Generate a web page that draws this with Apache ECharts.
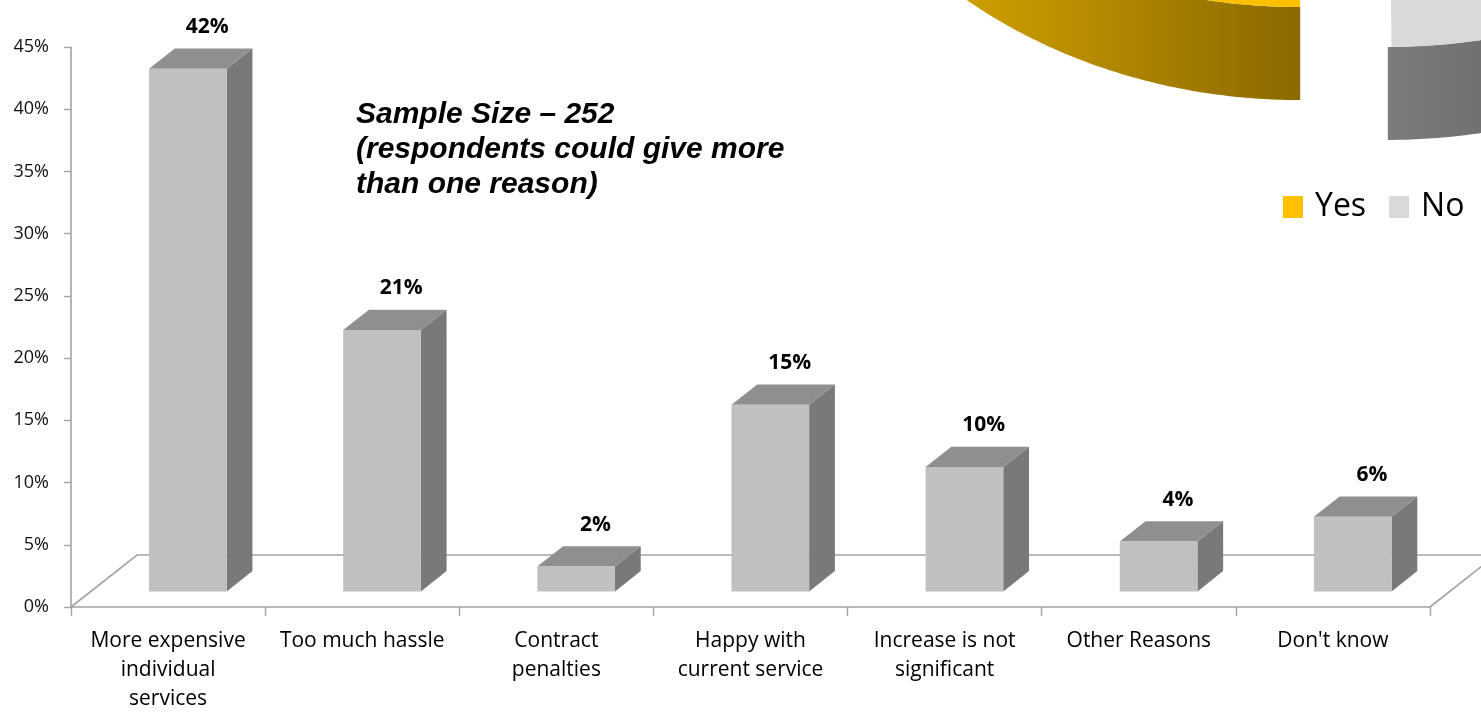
<!DOCTYPE html>
<html>
<head>
<meta charset="utf-8">
<title>Reasons for not taking a bundle</title>
<script src="https://cdn.jsdelivr.net/npm/echarts@6/dist/echarts.min.js"></script>
<style>
  html, body { margin: 0; padding: 0; background: #ffffff; }
  #chart { width: 1481px; height: 713px; }
</style>
</head>
<body>
<div id="chart"></div>
<script>
// ---- data ----
const categories = [
  'More expensive\nindividual\nservices',
  'Too much hassle',
  'Contract\npenalties',
  'Happy with\ncurrent service',
  'Increase is not\nsignificant',
  'Other Reasons',
  "Don't know"
];
const shares = [42, 21, 2, 15, 10, 4, 6];
const valueTicks = [0, 5, 10, 15, 20, 25, 30, 35, 40, 45];

const pieLabels = ['Yes', 'No'];
const pieValues = [66, 34];

const noteLines = [
  'Sample Size \u2013 252',
  '(respondents could give more',
  'than one reason)'
];

// ---- 3D look ----
const FLOOR = { dx: 66, dy: -52 };               // depth of the floor in screen px
const BAR = { front: 0.30, back: 0.69, width: 0.40 };
const BAR_COLORS = { front: '#c0c0c0', top: '#8f8f8f', side: '#797979' };
const AXIS_GREY = '#a3a3a3';

const PIE = { cx: 1344, cy: -403, rx: 520, ry: 430, depth: 93, explode: 50, start: 90 };
const PIE_TOP = ['#ffc000', '#d9d9d9'];
const PIE_SIDE = [
  [[0, '#f4bc00'], [1, '#8a6900']],
  [[0, '#7c7c7c'], [1, '#3c3c3c']]
];

const chart = echarts.init(document.getElementById('chart'), null, { renderer: 'canvas' });

function renderFloor(params, api) {
  const bw = api.size([1, 0])[0];
  const first = api.coord([0, 0]);
  const last = api.coord([categories.length - 1, 0]);
  const x0 = first[0] - bw / 2, x1 = last[0] + bw / 2, y0 = first[1];
  return {
    type: 'polyline',
    shape: { points: [[x0, y0], [x0 + FLOOR.dx, y0 + FLOOR.dy], [x1 + FLOOR.dx, y0 + FLOOR.dy], [x1, y0]] },
    style: { stroke: AXIS_GREY, lineWidth: 1.6, fill: null }
  };
}

function renderBar(params, api) {
  const i = api.value(0), v = api.value(1);
  const base = api.coord([i, 0]);
  const top = api.coord([i, v]);
  const bw = api.size([1, 0])[0];
  const w = bw * BAR.width;
  const fx = FLOOR.dx * BAR.front, fy = FLOOR.dy * BAR.front;
  const ddx = FLOOR.dx * (BAR.back - BAR.front), ddy = FLOOR.dy * (BAR.back - BAR.front);
  const L = base[0] + fx - w / 2, R = L + w;
  const B = base[1] + fy, T = top[1] + fy;
  return {
    type: 'group',
    children: [
      { type: 'polygon', shape: { points: [[R, T], [R + ddx, T + ddy], [R + ddx, B + ddy], [R, B]] },
        style: { fill: BAR_COLORS.side } },
      { type: 'polygon', shape: { points: [[L, T], [R, T], [R + ddx, T + ddy], [L + ddx, T + ddy]] },
        style: { fill: BAR_COLORS.top } },
      { type: 'rect', shape: { x: L, y: T, width: w, height: B - T },
        style: { fill: BAR_COLORS.front } },
      { type: 'text', x: L + w / 2 + ddx * 0.75, y: T + ddy - 11,
        style: { text: v + '%', fontFamily: 'Open Sans', fontWeight: 'bold', fontSize: 21,
                 fill: '#000', align: 'center', verticalAlign: 'bottom' } }
    ]
  };
}

function sliceAngles(idx) {
  const total = pieValues.reduce((a, b) => a + b, 0);
  let a = PIE.start;
  for (let j = 0; j < idx; j++) a += pieValues[j] / total * 360;
  return [a, a + pieValues[idx] / total * 360];
}

function makePieRenderer(idx) {
  return function (params, api) {
    const [a1, a2] = sliceAngles(idx);
    const k = PIE.ry / PIE.rx;
    const mid = (a1 + a2) / 2 * Math.PI / 180;
    const cx = PIE.cx + PIE.explode * Math.cos(mid);
    const cy = PIE.cy + PIE.explode * k * Math.sin(mid);
    const pt = (deg, dz) => {
      const t = deg * Math.PI / 180;
      return [cx + PIE.rx * Math.cos(t), cy + PIE.ry * Math.sin(t) + dz];
    };
    const children = [];
    // outer wall: only the front half of the rim (0..180 deg, screen y down) is visible
    for (let kk = -1; kk <= 2; kk++) {
      const s = Math.max(a1, 360 * kk), e = Math.min(a2, 360 * kk + 180);
      if (e <= s) continue;
      const lower = [], upper = [];
      for (let d = s; d <= e + 1e-6; d += 0.5) {
        lower.push(pt(Math.min(d, e), PIE.depth));
        upper.unshift(pt(Math.min(d, e), 0));
      }
      const xs = lower.map(p => p[0]);
      children.push({
        type: 'polygon',
        shape: { points: lower.concat(upper) },
        style: {
          fill: {
            type: 'linear', global: true,
            x: Math.min.apply(null, xs), y: 0, x2: Math.max.apply(null, xs), y2: 0,
            colorStops: PIE_SIDE[idx].map(([o, c]) => ({ offset: o, color: c }))
          }
        }
      });
    }
    // top face
    const face = [[cx, cy]];
    for (let d = a1; d <= a2 + 1e-6; d += 0.5) face.push(pt(Math.min(d, a2), 0));
    children.push({ type: 'polygon', shape: { points: face }, style: { fill: PIE_TOP[idx] } });
    return { type: 'group', children };
  };
}

const option = {
  animation: false,
  backgroundColor: '#ffffff',
  grid: { left: 71, right: 51, top: 47, bottom: 106, containLabel: false, outerBoundsMode: 'none' },
  legend: {
    data: pieLabels,
    left: 1283, top: 191, padding: 0,
    icon: 'rect', itemWidth: 20, itemHeight: 22, itemGap: 23,
    selectedMode: false,
    textStyle: { fontFamily: 'Open Sans', fontSize: 32, color: '#000', padding: [0, 0, 0, 7] }
  },
  xAxis: {
    type: 'category',
    data: categories,
    axisLine: { show: true, lineStyle: { color: AXIS_GREY, width: 1.6 } },
    axisTick: { show: true, length: 9, interval: 0, lineStyle: { color: AXIS_GREY, width: 1.4 } },
    axisLabel: { interval: 0, fontFamily: 'Open Sans', fontSize: 21, lineHeight: 29, color: '#000', margin: 20 },
    splitLine: { show: false }
  },
  yAxis: {
    type: 'value',
    min: valueTicks[0],
    max: valueTicks[valueTicks.length - 1],
    interval: valueTicks[1] - valueTicks[0],
    axisLine: { show: true, lineStyle: { color: AXIS_GREY, width: 1.6 } },
    axisTick: { show: true, length: 7, lineStyle: { color: AXIS_GREY, width: 1.4 } },
    axisLabel: { formatter: '{value}%', fontFamily: 'Open Sans', fontSize: 18, color: '#111', margin: 22 },
    splitLine: { show: false }
  },
  graphic: [{
    type: 'text', left: 356, top: 97, z: 10,
    style: {
      text: noteLines.join('\n'),
      fontFamily: 'Liberation Sans', fontStyle: 'italic', fontWeight: 'bold',
      fontSize: 30, lineHeight: 35, fill: '#000'
    }
  }],
  series: [
    {
      name: 'floor', type: 'custom', z: 1, silent: true, clip: false,
      renderItem: renderFloor,
      data: [[0, 0]]
    },
    {
      name: 'Reasons', type: 'custom', z: 3, clip: false,
      renderItem: renderBar,
      encode: { x: 0, y: 1 },
      data: shares.map((v, i) => [i, v])
    },
    {
      name: pieLabels[0], type: 'custom', coordinateSystem: 'none', z: 2, silent: true,
      itemStyle: { color: PIE_TOP[0] },
      renderItem: makePieRenderer(0),
      data: [[pieValues[0]]]
    },
    {
      name: pieLabels[1], type: 'custom', coordinateSystem: 'none', z: 2, silent: true,
      itemStyle: { color: PIE_TOP[1] },
      renderItem: makePieRenderer(1),
      data: [[pieValues[1]]]
    }
  ]
};

chart.setOption(option);
</script>
</body>
</html>
